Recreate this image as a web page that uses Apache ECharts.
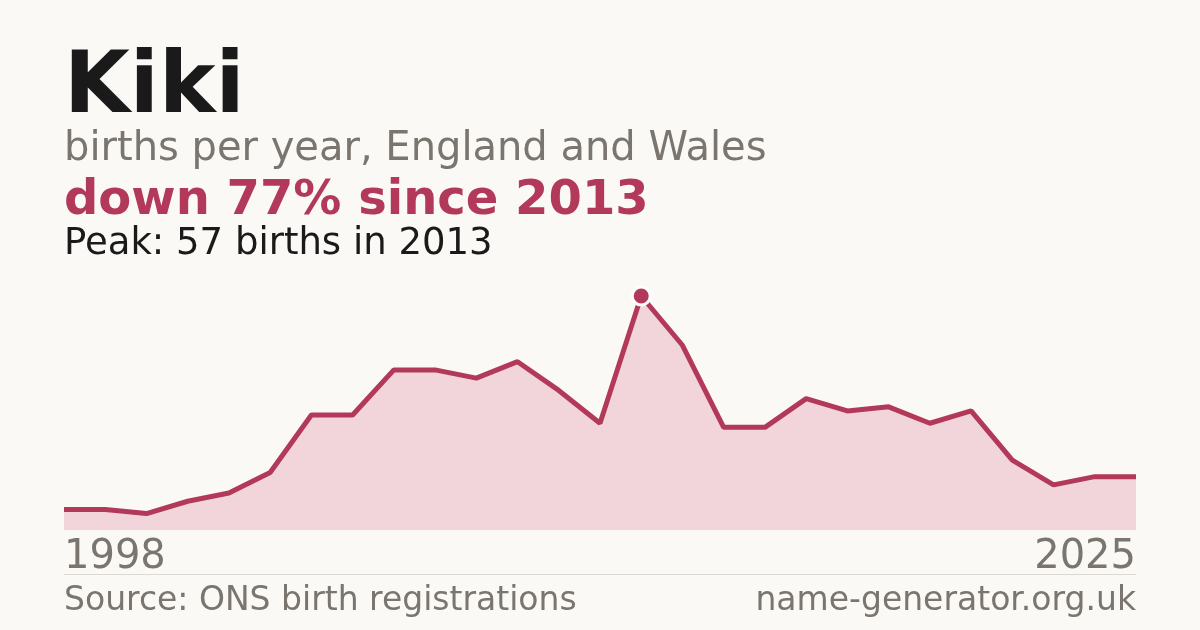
<!DOCTYPE html>
<html>
<head>
<meta charset="utf-8">
<script src="https://cdn.jsdelivr.net/npm/echarts@6/dist/echarts.min.js"></script>
<style>
html,body{margin:0;padding:0;background:#faf9f5;}
#chart{width:1200px;height:630px;}
</style>
</head>
<body>
<div id="chart"></div>
<script>
const years = ['1998','2000','2001','2002','2003','2004','2005','2006','2007','2008','2009','2010','2011','2012','2013','2014','2015','2016','2017','2018','2019','2020','2021','2022','2023','2024','2025'];
const births = [5,5,4,7,9,14,28,28,39,39,37,41,34,26,57,45,25,25,32,29,30,26,29,17,11,13,13];
const tickLabels = ['1998','2025'];
const titleText = 'Kiki';
const subtitleText = 'births per year, England and Wales';
const changeText = 'down 77% since 2013';
const peakText = 'Peak: 57 births in 2013';
const sourceText = 'Source: ONS birth registrations';
const siteText = 'name-generator.org.uk';

const FONT = 'DejaVu Sans';
const RED = '#b3395a';
const GREY = '#7a756e';
const peakIdx = births.indexOf(Math.max(...births));
const lastIdx = years.length - 1;

const chart = echarts.init(document.getElementById('chart'));
chart.setOption({
  backgroundColor: '#faf9f5',
  animation: false,
  grid: {left: 64, right: 64, top: 296, bottom: 100},
  xAxis: {
    type: 'category',
    data: years,
    boundaryGap: false,
    axisLine: {show: false},
    axisTick: {show: false},
    splitLine: {show: false},
    axisLabel: {
      interval: function (i) { return i === 0 || i === lastIdx; },
      formatter: function (v, i) { return i === 0 ? tickLabels[0] : tickLabels[1]; },
      alignMinLabel: 'left',
      alignMaxLabel: 'right',
      color: GREY,
      fontFamily: FONT,
      fontSize: 40,
      margin: 8
    }
  },
  yAxis: {
    type: 'value', min: 0, max: 57, show: false, splitLine: {show: false}
  },
  series: [{
    type: 'line',
    data: births.map(function (v, i) {
      return i === peakIdx ? {
        value: v, symbol: 'circle', symbolSize: 18,
        itemStyle: {color: RED, borderColor: '#ffffff', borderWidth: 3}
      } : v;
    }),
    symbol: 'none',
    showSymbol: true,
    lineStyle: {color: RED, width: 5},
    areaStyle: {color: '#f1d5da', opacity: 1},
    z: 3
  }],
  graphic: [
    {type: 'text', left: 64, top: 47, style: {text: titleText, font: 'bold 85px "DejaVu Sans"', fill: '#1a1a1a'}},
    {type: 'text', left: 64, top: 130, style: {text: subtitleText, font: '40px "DejaVu Sans"', fill: GREY}},
    {type: 'text', left: 64, top: 178, style: {text: changeText, font: 'bold 48px "DejaVu Sans"', fill: RED}},
    {type: 'text', left: 64, top: 226, style: {text: peakText, font: '37px "DejaVu Sans"', fill: '#1a1a1a'}},
    {type: 'line', shape: {x1: 64, y1: 574.5, x2: 1136, y2: 574.5}, style: {stroke: '#dcd9d3', lineWidth: 1}},
    {type: 'text', left: 64, top: 585, style: {text: sourceText, font: '33px "DejaVu Sans"', fill: GREY}},
    {type: 'text', right: 64, top: 585, style: {text: siteText, font: '33px "DejaVu Sans"', fill: GREY}}
  ]
});
</script>
</body>
</html>
